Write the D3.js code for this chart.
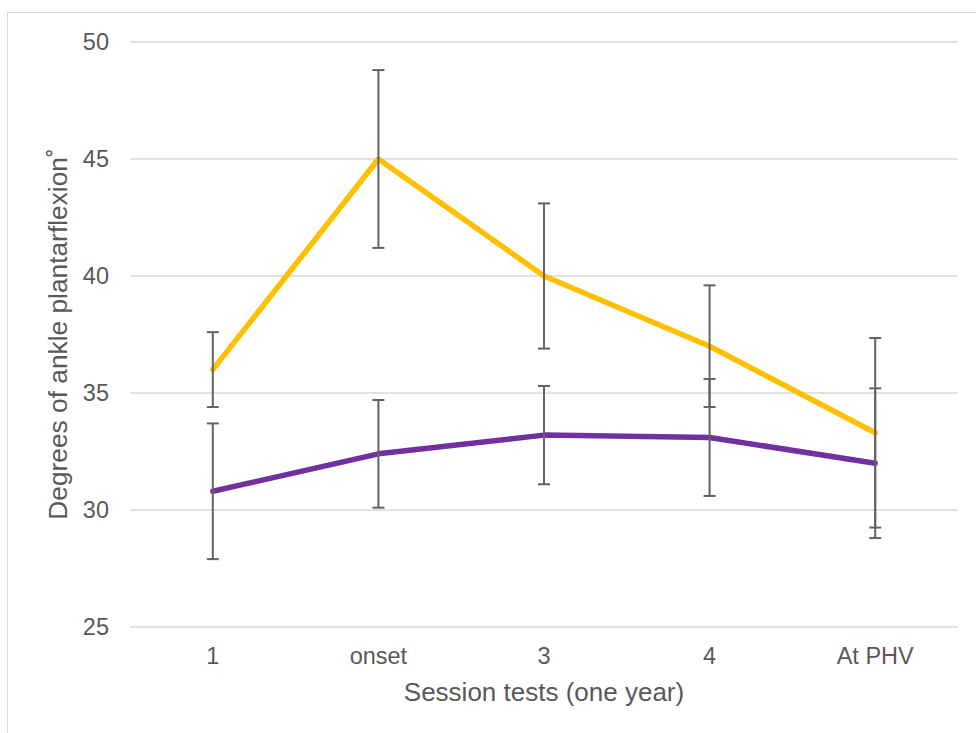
<!DOCTYPE html>
<html>
<head>
<meta charset="utf-8">
<script src="https://cdn.jsdelivr.net/npm/d3@7"></script>
<style>
  html, body { margin: 0; padding: 0; background: #fff; }
  svg { display: block; font-family: "Liberation Sans", Arial, sans-serif; }
</style>
</head>
<body>
<svg id="chart" width="976" height="733"></svg>
<script>
// Session labels along the x axis
const sessions = ["1", "onset", "3", "4", "At PHV"];
// Mean ankle plantarflexion per session (degrees)
const yellowMean = [36.0, 45.0, 40.0, 37.0, 33.3];
const purpleMean = [30.8, 32.4, 33.2, 33.1, 32.0];
// Error bar half-widths (± SD)
const yellowErr = [1.6, 3.8, 3.1, 2.6, 4.05];
const purpleErr = [2.9, 2.3, 2.1, 2.5, 3.2];
// Y axis ticks
const yTicks = [25, 30, 35, 40, 45, 50];

const svg = d3.select("#chart");

// chart frame
svg.append("rect")
  .attr("x", 7.5).attr("y", 12.5)
  .attr("width", 1000).attr("height", 800)
  .attr("fill", "#fff").attr("stroke", "#d9d9d9").attr("stroke-width", 1);

const x = d3.scaleBand().domain(sessions).range([130, 958]);
const y = d3.scaleLinear().domain([25, 50]).range([627, 42]);

// horizontal gridlines
svg.append("g").selectAll("line").data(yTicks).join("line")
  .attr("x1", 130).attr("x2", 958)
  .attr("y1", d => y(d)).attr("y2", d => y(d))
  .attr("stroke", "#d9d9d9").attr("stroke-width", 1.5);

// y axis labels
const yAxis = svg.append("g").attr("transform", "translate(109,0)")
  .call(d3.axisLeft(y).tickValues(yTicks).tickSize(0).tickPadding(0));
yAxis.select(".domain").remove();
yAxis.selectAll("text")
  .attr("fill", "#595959").style("font-size", "23.5px")
  .style("font-family", "'Liberation Sans', Arial, sans-serif");

// x axis labels
const xAxis = svg.append("g").attr("transform", "translate(0,647)")
  .call(d3.axisBottom(x).tickSize(0).tickPadding(0));
xAxis.select(".domain").remove();
xAxis.selectAll("text")
  .attr("fill", "#595959").style("font-size", "23.5px")
  .style("font-family", "'Liberation Sans', Arial, sans-serif");

// axis titles
svg.append("text")
  .attr("x", 544).attr("y", 701)
  .attr("text-anchor", "middle")
  .attr("fill", "#595959").style("font-size", "26px")
  .text("Session tests (one year)");

svg.append("text")
  .attr("transform", "translate(67,334) rotate(-90)")
  .attr("text-anchor", "middle")
  .attr("fill", "#595959").style("font-size", "26.3px")
  .text("Degrees of ankle plantarflexion˚");

const cx = d => x(d) + x.bandwidth() / 2;

const series = [
  { mean: yellowMean, err: yellowErr, color: "#FFC000" },
  { mean: purpleMean, err: purpleErr, color: "#7030A0" }
];

const line = d3.line()
  .x((d, i) => cx(sessions[i]))
  .y(d => y(d));

series.forEach(s => {
  svg.append("path")
    .datum(s.mean)
    .attr("d", line)
    .attr("fill", "none")
    .attr("stroke", s.color)
    .attr("stroke-width", 5.5)
    .attr("stroke-linejoin", "round")
    .attr("stroke-linecap", "round");
});

// error bars drawn above the lines
series.forEach(s => {
  const g = svg.append("g");
  const rows = sessions.map((c, i) => ({ c, lo: s.mean[i] - s.err[i], hi: s.mean[i] + s.err[i] }));
  g.selectAll("line.v").data(rows).join("line")
    .attr("x1", d => cx(d.c)).attr("x2", d => cx(d.c))
    .attr("y1", d => y(d.hi)).attr("y2", d => y(d.lo))
    .attr("stroke", "#636363").attr("stroke-width", 2);
  ["hi", "lo"].forEach(k => {
    g.selectAll("line.c" + k).data(rows).join("line")
      .attr("x1", d => cx(d.c) - 6).attr("x2", d => cx(d.c) + 6)
      .attr("y1", d => y(d[k])).attr("y2", d => y(d[k]))
      .attr("stroke", "#636363").attr("stroke-width", 2);
  });
});
</script>
</body>
</html>
